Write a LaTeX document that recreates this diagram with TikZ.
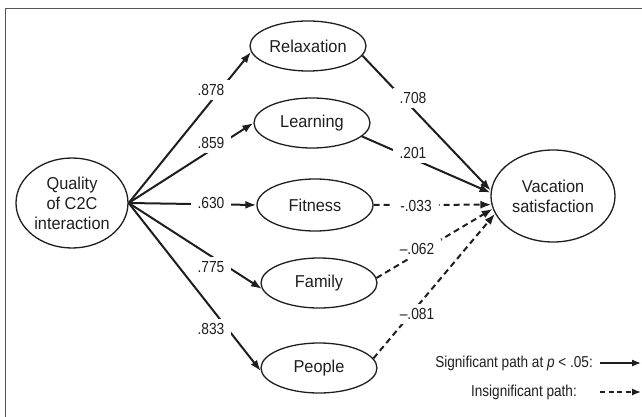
\documentclass[tikz,border=0pt]{standalone}
\usepackage{fontspec}
\setmainfont{Liberation Sans}[FakeStretch=0.95]
\newfontfamily\narrowfont{Liberation Sans}[FakeStretch=0.86]
\usetikzlibrary{shapes.geometric,arrows.meta}
\definecolor{ink}{HTML}{1E1E1E}
\definecolor{framegray}{HTML}{555555}
\begin{document}
\begin{tikzpicture}[x=1pt,y=-1pt,
  lat/.style={ellipse,draw=ink,line width=1.3pt,inner sep=0pt,minimum width=116pt,minimum height=50pt,font=\fontsize{17.2}{20}\selectfont,text=ink,align=center},
  sigpath/.style={line width=2pt,draw=ink,-{Latex[length=11pt,width=8pt]}},
  nspath/.style={sigpath,dash pattern=on 6pt off 4pt},
  coef/.style={fill=white,inner xsep=7pt,inner ysep=4pt,font=\narrowfont\fontsize{16}{16}\selectfont,text=ink},
  legendtext/.style={font=\narrowfont\fontsize{15.8}{16}\selectfont,text=ink,anchor=east,inner sep=0pt},
  legsig/.style={line width=1.3pt,draw=ink,-{Latex[length=9pt,width=7pt]}},
  legns/.style={legsig,dash pattern=on 5pt off 3.5pt},
]
\useasboundingbox (0,0) rectangle (642,417);
\draw[framegray,line width=1.5pt] (5.5,440) |- (660,8.5);

% nodes
\node[lat,minimum width=112pt,minimum height=90pt] (q) at (72,203) {Quality\\of C2C\\interaction};
\node[lat] (rel) at (308,46) {Relaxation};
\node[lat] (lea) at (312,123) {Learning};
\node[lat,minimum height=52pt] (fit) at (315,205) {Fitness};
\node[lat] (fam) at (319,283) {Family};
\node[lat] (peo) at (319,368) {People};
\node[lat,minimum width=124pt,minimum height=92pt] (vac) at (553,196) {Vacation\\satisfaction};

% paths from Quality
\draw[sigpath] (q.east) -- (rel.186);
\draw[sigpath] (q.east) -- (lea.west);
\draw[sigpath] (q.east) -- (fit.west);
\draw[sigpath] (q.east) -- (fam.186);
\draw[sigpath] (q.east) -- (peo.183);

% paths to Vacation satisfaction
\draw[sigpath] (rel.350) -- (vac.175);
\draw[sigpath] (lea.345) -- (vac.177);
\draw[nspath] (fit.east) -- (vac.188);
\draw[nspath] (fam.5) -- (vac.192);
\draw[nspath] (peo.10) -- (vac.197);

% coefficients
\node[coef] (c1) at (211,90) {.878};
\node[coef] (c2) at (211,143) {.859};
\node[coef] (c3) at (211,203) {.630};
\node[coef] (c4) at (211,267) {.775};
\node[coef] (c5) at (211,329) {.833};
\node[coef] (d1) at (413,98) {.708};
\node[coef] (d2) at (413,153) {.201};
\node[coef] (d3) at (416,206) {-.033};
\node[coef] (d4) at (417,249) {–.062};
\node[coef] (d5) at (417,314) {–.081};

% legend
\node[legendtext] (l1) at (593,363) {Significant path at \textit{p} < .05:};
\node[legendtext] (l2) at (577,392) {Insignificant path:};
\coordinate (l1a) at (600,363);
\coordinate (l1b) at (641,363);
\coordinate (l2a) at (600,392);
\coordinate (l2b) at (641,392);
\draw[legsig] (l1a) -- (l1b);
\draw[legns] (l2a) -- (l2b);
\end{tikzpicture}
\end{document}
